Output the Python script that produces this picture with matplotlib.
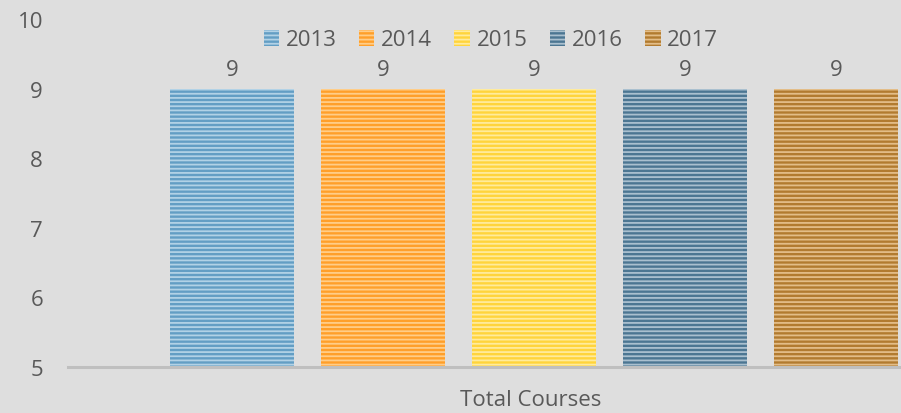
import matplotlib.pyplot as plt

# data
years = ['2013', '2014', '2015', '2016', '2017']
courses = [9, 9, 9, 9, 9]
category = 'Total Courses'

face_colors = ['#639ec4', '#ff9f2a', '#ffd43c', '#4c7692', '#b27b30']
stripe_colors = ['#b2d2e6', '#ffcd88', '#ffeb9c', '#aac0cf', '#e3bd88']

bg = '#dedede'
txt = '#595959'

plt.rcParams['font.family'] = ['Open Sans', 'DejaVu Sans']
plt.rcParams['hatch.linewidth'] = 1.3

fig = plt.figure(figsize=(9.01, 4.14), dpi=100, facecolor=bg)
# plot area runs past the right edge of the picture (cropped chart)
ax = fig.add_axes([68 / 901, 1 - 368 / 414, 932 / 901, 348 / 414])
ax.set_facecolor(bg)

width = 0.134
step = 0.162
n = len(years)
for i, (yr, val) in enumerate(zip(years, courses)):
    x = (i - (n - 1) / 2) * step
    bars = ax.bar(x, val, width=width, color=face_colors[i], edgecolor=stripe_colors[i],
                  linewidth=0, hatch='----', label=yr)
    ax.bar_label(bars, padding=6, fontsize=16, color=txt)

ax.set_xlim(-0.5, 0.5)
ax.set_ylim(5, 10)
ax.set_yticks([5, 6, 7, 8, 9, 10])
ax.tick_params(axis='y', length=0, labelsize=16, labelcolor=txt, pad=18)
ax.set_xticks([])
for s in ['top', 'right', 'left']:
    ax.spines[s].set_visible(False)
ax.spines['bottom'].set_color('#bfbfbf')
ax.spines['bottom'].set_linewidth(2.2)

fig.text(531 / 901, 1 - 401 / 414, category, ha='center', va='center', fontsize=16, color=txt)

leg = fig.legend(loc='center', bbox_to_anchor=(491 / 901, 1 - 41 / 414), ncol=5, frameon=False,
                 fontsize=16, handlelength=0.7, handleheight=0.7, handletextpad=0.3,
                 columnspacing=1.0)
for t in leg.get_texts():
    t.set_color(txt)

fig.savefig('out.png', dpi=100, facecolor=bg)
